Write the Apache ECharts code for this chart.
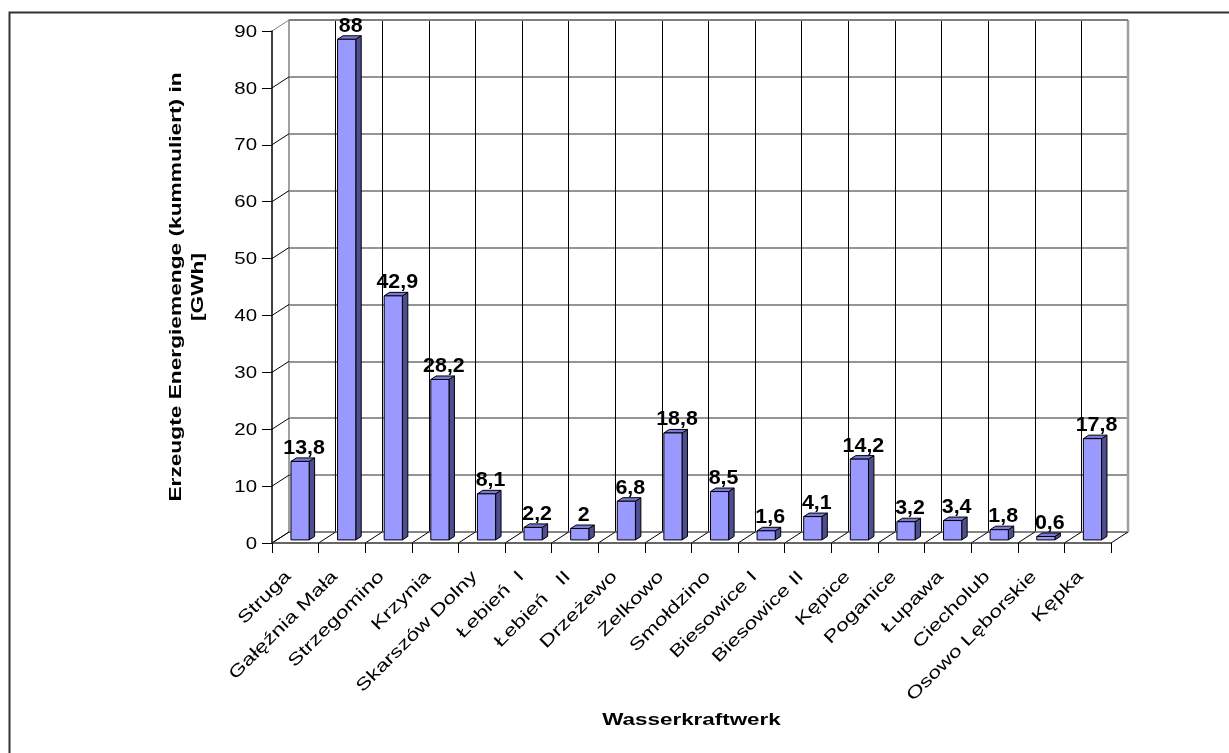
<!DOCTYPE html>
<html><head><meta charset="utf-8">
<script src="https://cdn.jsdelivr.net/npm/echarts@6/dist/echarts.min.js"></script>
<style>html,body{margin:0;padding:0;background:#fff}#c{width:1229px;height:753px}</style>
</head><body><div id="c"></div>
<script>
const categories = ['Struga','Gałęźnia Mała','Strzegomino','Krzynia','Skarszów Dolny','Łebień  I','Łebień   II','Drzeżewo','Żelkowo','Smołdzino','Biesowice I','Biesowice II','Kępice','Poganice','Łupawa','Ciecholub','Osowo Lęborskie','Kępka'];
const values = [13.8, 88, 42.9, 28.2, 8.1, 2.2, 2, 6.8, 18.8, 8.5, 1.6, 4.1, 14.2, 3.2, 3.4, 1.8, 0.6, 17.8];
const yTicks = [0, 10, 20, 30, 40, 50, 60, 70, 80, 90];
const yTitle = 'Erzeugte Energiemenge (kummuliert) in\n[GWh]';
const xTitle = 'Wasserkraftwerk';

const DX = 17, DY = -11;          // depth of the 3D box
const FONT = '"Liberation Sans", Arial, sans-serif';
const fmt = v => String(v).replace('.', ',');

function renderBar(params, api) {
  const i = api.value(0), v = api.value(1);
  const top = api.coord([i, v]);
  const base = api.coord([i, 0]);
  const band = api.size([1, 0])[0];
  const w = band * 0.39;
  const f = 0.28, d = 0.32;
  const cx = top[0] + DX * f;
  const x0 = cx - w / 2, x1 = cx + w / 2;
  const yt = top[1] + DY * f, yb = base[1] + DY * f;
  const ddx = DX * d, ddy = DY * d;
  const st = { stroke: '#000', lineWidth: 1 };
  return {
    type: 'group',
    children: [
      { type: 'polygon', shape: { points: [[x1, yt], [x1 + ddx, yt + ddy], [x1 + ddx, yb + ddy], [x1, yb]] },
        style: Object.assign({ fill: '#4D4D8F' }, st) },
      { type: 'polygon', shape: { points: [[x0, yt], [x1, yt], [x1 + ddx, yt + ddy], [x0 + ddx, yt + ddy]] },
        style: Object.assign({ fill: '#7A7AD6' }, st) },
      { type: 'rect', shape: { x: x0, y: yt, width: w, height: yb - yt },
        style: Object.assign({ fill: '#9999FF' }, st) },
      { type: 'text', x: cx + 4, y: yt - 3, scaleX: 1.07,
        style: { text: fmt(v), fill: '#000', font: 'bold 20px ' + FONT, align: 'center', verticalAlign: 'bottom' } }
    ]
  };
}

function renderFrame(params, api) {
  const band = api.size([1, 0])[0];
  const children = [];
  const left = api.coord([0, 0])[0] - band / 2;
  const right = api.coord([categories.length - 1, 0])[0] + band / 2;
  const y0 = api.coord([0, 0])[1];
  const yMax = api.coord([0, yTicks[yTicks.length - 1]])[1];
  // left side wall diagonals + tick labels
  yTicks.forEach(function (t, k) {
    const y = api.coord([0, t])[1];
    children.push({ type: 'line', shape: { x1: left, y1: y, x2: left + DX, y2: y + DY },
      style: { stroke: k === yTicks.length - 1 ? '#808080' : '#000', lineWidth: 1 } });
    children.push({ type: 'text', x: left - 15, y: y + 1, scaleX: 1.2,
      style: { text: String(t), fill: '#000', font: '17px ' + FONT, align: 'right', verticalAlign: 'middle' } });
  });
  // floor diagonals + category labels
  categories.forEach(function (c, i) {
    const cx = api.coord([i, 0])[0];
    const xl = cx - band / 2;
    children.push({ type: 'line', shape: { x1: xl, y1: y0, x2: xl + DX, y2: y0 + DY },
      style: { stroke: '#000', lineWidth: 1 } });
    children.push({ type: 'text', x: cx - 7, y: y0 + 31, rotation: Math.PI / 4, scaleX: 1.34,
      style: { text: c, fill: '#000', font: '17px ' + FONT, align: 'right', verticalAlign: 'middle' } });
  });
  children.push({ type: 'line', shape: { x1: right, y1: y0, x2: right + DX, y2: y0 + DY },
    style: { stroke: '#000', lineWidth: 1 } });
  // back wall right edge
  children.push({ type: 'line', shape: { x1: right + DX, y1: yMax + DY, x2: right + DX, y2: y0 + DY },
    style: { stroke: '#A0A0A0', lineWidth: 2.5 } });
  // back wall top edge
  children.push({ type: 'line', shape: { x1: left + DX, y1: yMax + DY, x2: right + DX, y2: yMax + DY },
    style: { stroke: '#808080', lineWidth: 2 } });
  // axis titles
  const midX = (left + right) / 2, midY = (y0 + yMax) / 2;
  children.push({ type: 'text', x: midX, y: 721, scaleX: 1.4,
    style: { text: xTitle, fill: '#000', font: 'bold 16px ' + FONT, align: 'center', verticalAlign: 'middle' } });
  children.push({ type: 'text', x: 188, y: midY, rotation: Math.PI / 2, scaleX: 1.42,
    style: { text: yTitle, fill: '#000', font: 'bold 16px ' + FONT, lineHeight: 22, align: 'center', verticalAlign: 'middle' } });
  return { type: 'group', children: children };
}

const chart = echarts.init(document.getElementById('c'), null, { renderer: 'canvas' });
chart.setOption({
  animation: false,
  backgroundColor: '#fff',
  graphic: [{ type: 'rect', left: 7, top: 10, shape: { width: 1400, height: 900 },
    style: { fill: 'none', stroke: '#333', lineWidth: 2 }, silent: true, z: 100 }],
  grid: [
    { left: 272, right: 118, top: 31, bottom: 210 },
    { left: 289, right: 101, top: 20, bottom: 221 }
  ],
  xAxis: [
    { type: 'category', gridIndex: 0, data: categories, boundaryGap: true,
      axisLine: { show: true, lineStyle: { color: '#333', width: 1.5 } },
      axisTick: { show: true, interval: 0, length: 10, alignWithLabel: false, lineStyle: { color: '#000' } },
      axisLabel: { show: false }, splitLine: { show: false }, z: 5 },
    { type: 'category', gridIndex: 1, data: categories, boundaryGap: true,
      axisLine: { show: true, lineStyle: { color: '#808080', width: 1.5 } },
      axisTick: { show: false }, axisLabel: { show: false },
      splitLine: { show: true, interval: 0, showMinLine: false, showMaxLine: false, lineStyle: { color: '#000', width: 1 } } }
  ],
  yAxis: [
    { type: 'value', gridIndex: 0, min: 0, max: 90, interval: 10,
      axisLine: { show: true, lineStyle: { color: '#000', width: 1.5 } },
      axisTick: { show: true, length: 10, lineStyle: { color: '#000' } },
      axisLabel: { show: false }, splitLine: { show: false }, z: 5 },
    { type: 'value', gridIndex: 1, min: 0, max: 90, interval: 10,
      axisLine: { show: true, lineStyle: { color: '#808080', width: 1.5 } },
      axisTick: { show: false }, axisLabel: { show: false },
      splitLine: { show: true, lineStyle: { color: '#707070', width: 1.5 } } }
  ],
  series: [
    { type: 'custom', name: 'frame', xAxisIndex: 0, yAxisIndex: 0, clip: false, z: 3,
      data: [[0, 0]], renderItem: renderFrame, silent: true },
    { type: 'custom', name: 'Energie', xAxisIndex: 0, yAxisIndex: 0, clip: false, z: 4,
      data: values.map((v, i) => [i, v]), renderItem: renderBar }
  ]
});
</script></body></html>
